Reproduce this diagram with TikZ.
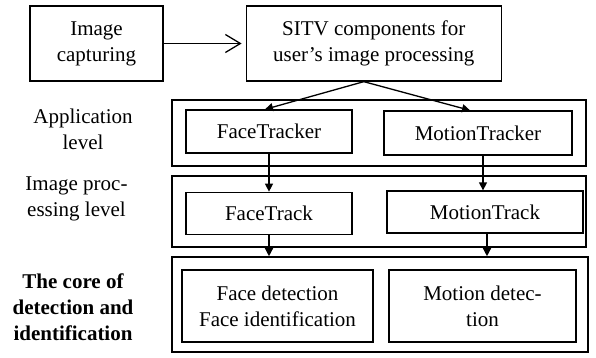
\documentclass[tikz,border=0pt]{standalone}
\usepackage{fontspec}
\setmainfont{Liberation Serif}
\usepackage{tikz}
\usetikzlibrary{positioning,arrows.meta}
\tikzset{
  node-box/.style={draw=black,line width=1.3pt,align=center,inner sep=0pt},
  node-level/.style={draw=black,line width=1.6pt,inner sep=0pt,minimum width=414pt},
  node-label/.style={align=center,inner sep=0pt},
  arrow/.style={-{Triangle[length=8pt,width=8pt]},line width=1.3pt},
  arrow-open/.style={-{Straight Barb[length=15pt,width=18pt]},line width=1.3pt,shorten >=4pt},
}

\begin{document}
\begin{tikzpicture}[x=1pt,y=-1pt,every node/.append style={font=\fontsize{21}{26}\selectfont}]
  \useasboundingbox (0,0) rectangle (596,358);
  % levels
  \node[node-level,minimum height=66pt]                  (app)  at (379,133)   {};
  \node[node-level,minimum height=71pt]                  (proc) at (379,211.5) {};
  \node[node-level,minimum height=95pt,minimum width=416pt] (core) at (380,304.5) {};
  \node[node-label] (lapp)  at (83,129.5)  {Application\\level};
  \node[node-label] (lproc) at (76.5,198.5) {Image proc-\\essing level};
  \node[node-label,font=\fontsize{21}{26}\selectfont\bfseries] (lcore) at (73,307) {The core of\\detection and\\identification};
  % boxes
  \node[node-box,minimum width=133pt,minimum height=75pt]                (cap)  at (96.5,43.5) {Image\\capturing};
  \node[node-box,minimum width=255pt,minimum height=75pt,right=82pt of cap] (sitv) {SITV components for\\user's image processing};
  \node[node-box,minimum width=166pt,minimum height=43pt]                (ftr)  at (269,131.5) {FaceTracker};
  \node[node-box,minimum width=188pt,minimum height=44pt]                (mtr)  at (478,133)   {MotionTracker};
  \node[node-box,minimum width=166pt,minimum height=42pt,below=38pt of ftr] (ft)  {FaceTrack};
  \node[node-box,minimum width=196pt,minimum height=42pt]                (mt)   at (485,212)   {MotionTrack};
  \node[node-box,minimum width=191pt,minimum height=72pt]                (fd)   at (277.5,306) {Face detection\\Face identification};
  \node[node-box,minimum width=187pt,minimum height=72pt]                (md)   at (482.5,306) {Motion detec-\\tion};
  % connectors
  \draw[arrow-open] (cap) -- (sitv);
  \draw[arrow] ([xshift=-10pt]sitv.south) -- ([xshift=-4pt]ftr.north);
  \draw[arrow] ([xshift=-10pt]sitv.south) -- ([xshift=-8pt]mtr.north);
  \draw[arrow] (ftr.south) -- (ft.north);
  \draw[arrow] ([xshift=5pt]mtr.south) -- ([xshift=-2pt]mt.north);
  \draw[arrow] (ft.south) -- (ft.south |- core.north);
  \draw[arrow] ([xshift=2pt]mt.south) -- ([xshift=2pt]mt.south |- core.north);
\end{tikzpicture}
\end{document}
